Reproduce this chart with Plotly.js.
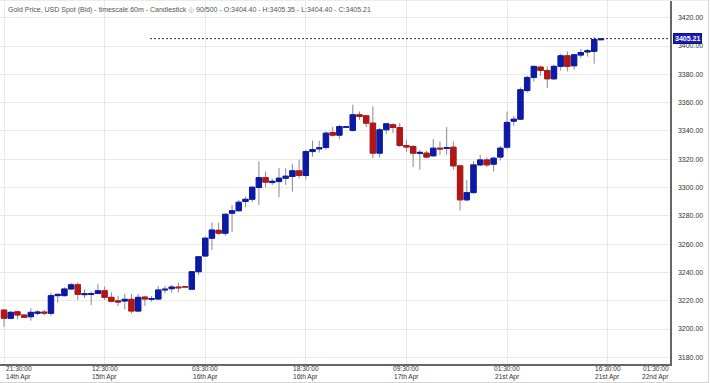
<!DOCTYPE html>
<html>
<head>
<meta charset="utf-8">
<script src="https://cdn.plot.ly/plotly-3.0.1.min.js"></script>
<style>
html,body{margin:0;padding:0;background:#fff;}
#wrap{position:relative;width:710px;height:383px;}
#chart{width:710px;height:383px;}
#frame{position:absolute;left:0;top:0;width:708px;height:381px;border-right:1px solid #d4d4d4;border-bottom:1px solid #d4d4d4;border-top:1px solid #ececec;pointer-events:none;}
</style>
</head>
<body>
<div id="wrap"><div id="chart"></div><div id="frame"></div></div>
<script>
// Hourly candles (60m), 14th Apr 21:30 -> 21st Apr 15:30
const openP = [3213.4,3207.6,3212.2,3209.9,3208.7,3211.1,3212.0,3211.1,3223.6,3223.6,
3228.3,3231.3,3224.3,3224.4,3225.2,3227.1,3222.4,3220.0,3219.8,3221.0,
3212.7,3222.6,3221.0,3221.2,3227.6,3228.5,3229.7,3229.9,3228.1,3240.5,
3251.6,3264.2,3269.8,3267.7,3281.8,3283.6,3290.1,3291.7,3300.0,3307.0,
3303.5,3304.2,3306.6,3307.8,3311.8,3308.5,3325.4,3327.3,3328.3,3338.9,
3337.0,3342.6,3340.3,3351.4,3350.7,3345.5,3324.3,3340.8,3344.3,3342.4,
3329.7,3329.0,3324.1,3324.3,3322.4,3327.8,3327.6,3328.5,3315.3,3291.3,
3296.4,3316.0,3319.5,3316.5,3321.5,3328.5,3346.9,3348.3,3368.5,3377.8,
3385.1,3382.7,3376.8,3385.6,3393.1,3386.0,3393.6,3395.8,3396.2,3404.40];
const highP = [3214.0,3212.7,3212.7,3210.3,3214.6,3213.4,3213.7,3225.7,3225.2,3229.5,
3232.8,3233.0,3228.0,3226.4,3231.8,3230.0,3226.0,3223.6,3224.8,3224.8,
3224.8,3223.6,3223.3,3230.4,3230.4,3231.1,3232.8,3230.2,3241.0,3251.6,
3265.3,3275.2,3275.2,3281.8,3287.7,3291.3,3293.6,3301.1,3318.4,3311.3,
3306.2,3313.7,3313.7,3316.7,3319.6,3326.6,3333.2,3333.2,3339.6,3342.7,
3344.3,3343.2,3358.5,3353.7,3351.4,3357.3,3342.0,3345.5,3345.5,3345.5,
3333.7,3330.2,3326.6,3326.0,3334.1,3332.5,3342.7,3332.5,3315.3,3305.4,
3318.8,3323.1,3321.2,3321.9,3329.4,3353.7,3350.7,3370.7,3379.0,3386.1,
3386.1,3385.6,3386.8,3394.5,3396.2,3394.5,3397.8,3397.8,3406.4,3405.35];
const lowP = [3201.6,3206.9,3206.9,3208.0,3205.9,3209.9,3209.6,3209.4,3218.8,3222.9,
3227.6,3220.5,3222.0,3217.0,3224.5,3220.5,3218.9,3216.3,3213.9,3211.1,
3212.2,3216.3,3219.3,3220.5,3225.2,3225.7,3225.7,3229.5,3227.6,3238.2,
3251.1,3255.9,3266.5,3265.8,3268.8,3283.0,3286.1,3289.6,3287.7,3300.2,
3301.8,3293.2,3301.9,3297.1,3306.6,3305.9,3321.9,3324.7,3326.6,3336.0,
3334.1,3342.4,3339.6,3347.8,3342.7,3320.7,3321.2,3337.7,3338.4,3328.6,
3325.4,3314.4,3312.5,3320.8,3321.9,3323.1,3323.1,3312.5,3283.7,3290.1,
3295.5,3315.0,3314.4,3311.3,3319.1,3327.1,3343.6,3347.8,3367.1,3374.9,
3379.0,3370.3,3376.1,3382.7,3382.0,3383.3,3391.5,3392.5,3387.5,3404.40];
const closeP = [3207.6,3211.8,3209.9,3208.3,3211.8,3212.0,3211.3,3223.6,3224.5,3228.3,
3231.3,3224.5,3224.9,3225.0,3227.1,3222.4,3219.6,3219.1,3221.0,3212.7,
3222.4,3221.2,3221.5,3227.6,3228.1,3229.7,3229.2,3229.8,3240.5,3251.1,
3264.2,3270.0,3267.7,3281.1,3283.6,3289.6,3291.7,3300.2,3307.0,3303.8,
3304.4,3306.6,3308.0,3311.8,3308.5,3325.4,3326.8,3328.0,3338.4,3337.0,
3343.1,3342.9,3351.4,3350.2,3345.5,3324.3,3340.8,3345.0,3342.4,3329.7,
3328.6,3324.3,3324.8,3321.5,3327.8,3327.3,3328.2,3315.3,3291.3,3296.4,
3316.0,3319.5,3316.0,3320.7,3327.8,3346.0,3348.3,3369.1,3377.8,3385.6,
3382.7,3376.8,3385.6,3393.1,3385.6,3393.8,3395.4,3396.7,3404.6,3405.21];

const tickPos = [0, 15, 30, 45, 60, 75, 90, 97.2];
const tickTimes = ['21:30:00','12:30:00','03:30:00','18:30:00','09:30:00','01:30:00','16:30:00','01:30:00'];
const tickDates = ['14th Apr','15th Apr','16th Apr','16th Apr','17th Apr','21st Apr','21st Apr','22nd Apr'];
const gridPos = [0, 15, 30, 45, 60, 75, 90];
const lastPrice = 3405.21;
const titleText = 'Gold Price, USD Spot (Bid) - timescale.60m - Candlestick <span style="color:#aaa">◎</span> 90/500 - O:3404.40 - H:3405.35 - L:3404.40 - C:3405.21';

const xs = openP.map((_, i) => i);
const bodyHigh = openP.map((o, i) => Math.max(o, closeP[i]));
const bodyLow = openP.map((o, i) => Math.min(o, closeP[i]));

const BLUE = '#0c1aa8', RED = '#b41616', WICK = '#8a8a8a';

const wicks = {
  type: 'candlestick', x: xs, open: openP, high: highP, low: lowP, close: closeP,
  increasing: {line: {color: WICK, width: 1}, fillcolor: WICK},
  decreasing: {line: {color: WICK, width: 1}, fillcolor: WICK},
  whiskerwidth: 0, showlegend: false, hoverinfo: 'skip'
};
const bodies = {
  type: 'candlestick', x: xs, open: openP, high: bodyHigh, low: bodyLow, close: closeP,
  increasing: {line: {color: BLUE, width: 1}, fillcolor: BLUE},
  decreasing: {line: {color: RED, width: 1}, fillcolor: RED},
  whiskerwidth: 0, showlegend: false
};

const tickAnn = [];
tickPos.forEach((p, i) => {
  const first = i === 0;
  const base = {xref: 'x', x: p, yref: 'paper', y: 0, yanchor: 'middle', showarrow: false,
    xanchor: first ? 'left' : 'center', xshift: first ? 1 : 0,
    font: {size: 6.6, color: '#333'}, borderpad: 0};
  tickAnn.push(Object.assign({}, base, {text: tickTimes[i], yshift: -4.6}));
  tickAnn.push(Object.assign({}, base, {text: tickDates[i], yshift: -12.6}));
});

const layout = {
  width: 710, height: 383,
  margin: {l: 0, r: 40, t: 0, b: 19, pad: 0},
  paper_bgcolor: '#ffffff', plot_bgcolor: '#ffffff',
  font: {family: '"Liberation Sans", Arial, sans-serif', size: 7, color: '#333'},
  showlegend: false,
  boxmode: 'overlay', boxgap: 0.2, boxgroupgap: 0,
  title: {text: titleText, x: 8/710, xanchor: 'left', xref: 'container', y: 1 - 10/383, yanchor: 'middle', yref: 'container',
          font: {size: 7, color: '#555'}},
  xaxis: {
    type: 'linear', range: [-0.6, 99.3], fixedrange: true,
    rangeslider: {visible: false},
    tickmode: 'array', tickvals: gridPos, showticklabels: false,
    showgrid: true, gridcolor: '#e9e9e9', gridwidth: 1,
    showline: true, linecolor: '#666', linewidth: 1.5,
    zeroline: false, ticks: ''
  },
  yaxis: {
    side: 'right', range: [3175.3, 3432.5], fixedrange: true,
    dtick: 20, tick0: 0, tickformat: '.2f',
    showgrid: true, gridcolor: '#e9e9e9', gridwidth: 1,
    showline: true, linecolor: '#666', linewidth: 1.5,
    zeroline: false, ticks: '', ticklabelstandoff: 5,
    tickfont: {size: 7, color: '#333'}
  },
  shapes: [{
    type: 'line', xref: 'paper', x0: 150/670, x1: 1, yref: 'y', y0: lastPrice, y1: lastPrice,
    line: {color: '#333', width: 1, dash: '2px,2px'}
  }],
  annotations: tickAnn.concat([{
    xref: 'paper', x: 1, xanchor: 'left', xshift: 3, yref: 'y', y: lastPrice, yanchor: 'middle',
    text: '<b>' + lastPrice.toFixed(2) + '</b>', showarrow: false,
    bgcolor: '#1b1bb5', bordercolor: '#101080', borderwidth: 1, borderpad: 1,
    font: {size: 7, color: '#ffffff'}
  }])
};

Plotly.newPlot('chart', [wicks, bodies], layout, {displayModeBar: false, staticPlot: true});
</script>
</body>
</html>
